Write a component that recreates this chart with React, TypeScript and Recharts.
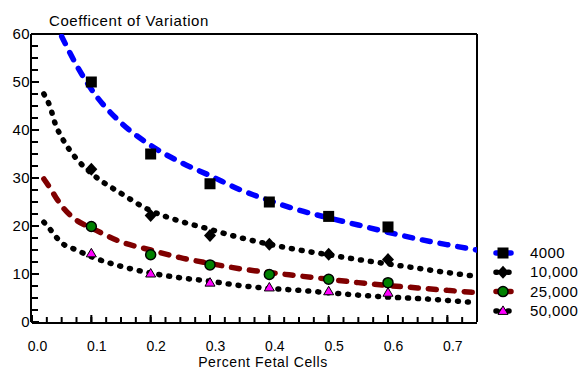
import React from 'react';
import { ComposedChart, Line, Scatter, XAxis, YAxis, ReferenceLine } from 'recharts';

// fitted curves
const curveX = [0.02, 0.03, 0.04, 0.05, 0.075, 0.1, 0.15, 0.2, 0.25, 0.3, 0.35, 0.4, 0.45, 0.5, 0.55, 0.6, 0.65, 0.7, 0.75];
const fit4000 = [null, null, null, 59.5, 53.5, 48.5, 41.5, 36.8, 33.3, 30.5, 27.6, 25.3, 23.3, 21.7, 20.2, 18.7, 17.3, 16.1, 15];
const fit10000 = [47.5, 45, 41, 38.5, 34, 31, 26.8, 23.2, 21, 19.3, 17.6, 16.2, 15, 14, 13, 12.1, 11.2, 10.3, 9.5];
const fit25000 = [29.8, 28, 26, 24.2, 21.2, 19.6, 16.7, 15, 13.4, 12.2, 11.1, 10.3, 9.6, 8.9, 8.2, 7.6, 7.1, 6.6, 6.1];
const fit50000 = [20.8, 19.4, 17.8, 16.5, 15, 13.6, 11.6, 10.2, 9.2, 8.5, 7.6, 7, 6.6, 6.1, 5.6, 5.2, 4.9, 4.5, 4];

// measured points
const markerX = [0.1, 0.2, 0.3, 0.4, 0.5, 0.6];
const pts4000 = [50, 35, 28.8, 25, 22, 19.8];
const pts10000 = [31.8, 22.2, 18, 16.2, 14.1, 13];
const pts25000 = [19.9, 14, 11.9, 9.9, 8.9, 8.2];
const pts50000 = [14.3, 10.1, 8.2, 7.2, 6.4, 6.1];

const seriesNames = ['4000', '10,000', '25,000', '50,000'];
const xMajor = [0, 0.1, 0.2, 0.3, 0.4, 0.5, 0.6, 0.7];
const xTickLabels = ['0.0', '0.1', '0.2', '0.3', '0.4', '0.5', '0.6', '0.7'];
const yMajor = [0, 10, 20, 30, 40, 50, 60];
const yTickLabels = ['0', '10', '20', '30', '40', '50', '60'];

const FONT = '"Liberation Sans", Arial, sans-serif';

const toPts = (xs: number[], ys: (number | null)[]) =>
  xs.map((x, i) => ({ x, y: ys[i] })).filter((d) => d.y !== null);

const Square = ({ cx, cy }: any) => <rect x={cx - 5.5} y={cy - 5.5} width={11} height={11} fill="#000" />;
const Diamond = ({ cx, cy }: any) => (
  <path d={`M${cx},${cy - 6.5}L${cx + 6},${cy}L${cx},${cy + 6.5}L${cx - 6},${cy}Z`} fill="#000" />
);
const Dot = ({ cx, cy }: any) => <circle cx={cx} cy={cy} r={5} fill="#008000" stroke="#000" strokeWidth={1.5} />;
const Tri = ({ cx, cy }: any) => (
  <path d={`M${cx},${cy - 5}L${cx + 5},${cy + 3.5}L${cx - 5},${cy + 3.5}Z`} fill="#ff00ff" stroke="#000" strokeWidth={1} />
);

const styles = [
  { color: '#0000ff', dash: '8 10', Shape: Square },
  { color: '#000000', dash: '1 9', Shape: Diamond },
  { color: '#800000', dash: '8 10', Shape: Dot },
  { color: '#000000', dash: '1 9', Shape: Tri },
];

// minor ticks: every 0.025 on x, every 2.5 on y
const xMinor: number[] = [];
for (let i = 0; i <= 30; i++) xMinor.push(Number((i * 0.025).toFixed(3)));
const yMinor: number[] = [];
for (let i = 0; i <= 24; i++) yMinor.push(i * 2.5);

const XLabel = (props: any) => {
  const { x, y, index } = props;
  return (
    <text x={x + 5.5} y={y + 28} textAnchor="middle" fontSize={14} fill="#000" fontFamily={FONT}>
      {xTickLabels[index]}
    </text>
  );
};

const YLabel = (props: any) => {
  const { x, y, index } = props;
  return (
    <text x={x - 1} y={y + 5} textAnchor="end" fontSize={15} letterSpacing={0.4} fill="#000" fontFamily={FONT}>
      {yTickLabels[index]}
    </text>
  );
};

const NoLabel = () => <g />;

const fits = [fit4000, fit10000, fit25000, fit50000];
const pts = [pts4000, pts10000, pts25000, pts50000];
const tickStroke = { stroke: '#000', strokeWidth: 2 };

export default function App() {
  return (
    <div style={{ position: 'absolute', left: 0, top: 0, width: 580, height: 371, fontFamily: FONT, background: '#fff' }}>
      <ComposedChart width={580} height={371} margin={{ top: 34, right: 103, bottom: 0, left: 0 }}>
        {/* outer axes: axis line, major ticks and labels */}
        <XAxis
          xAxisId="major"
          dataKey="x"
          type="number"
          domain={[0, 0.75]}
          ticks={xMajor}
          interval={0}
          tick={<XLabel />}
          tickLine={tickStroke}
          tickSize={-8}
          tickMargin={8}
          height={48}
          axisLine={{ stroke: '#000', strokeWidth: 2 }}
          allowDataOverflow
        />
        <YAxis
          yAxisId="major"
          dataKey="y"
          type="number"
          domain={[0, 60]}
          ticks={yMajor}
          interval={0}
          tick={<YLabel />}
          tickLine={tickStroke}
          tickSize={-8}
          tickMargin={8}
          width={31}
          axisLine={{ stroke: '#000', strokeWidth: 2 }}
          allowDataOverflow
        />
        {/* inner axes: minor ticks, series bind to these */}
        <XAxis
          dataKey="x"
          type="number"
          domain={[0, 0.75]}
          ticks={xMinor}
          interval={0}
          tick={<NoLabel />}
          tickLine={tickStroke}
          tickSize={-5}
          tickMargin={0}
          height={1}
          axisLine={false}
          allowDataOverflow
        />
        <YAxis
          dataKey="y"
          type="number"
          domain={[0, 60]}
          ticks={yMinor}
          interval={0}
          tick={<NoLabel />}
          tickLine={tickStroke}
          tickSize={-6}
          tickMargin={0}
          width={1}
          axisLine={false}
          allowDataOverflow
        />
        <ReferenceLine y={60} stroke="#000" strokeWidth={2} />
        <ReferenceLine x={0.75} stroke="#000" strokeWidth={2} />
        {fits.map((f, i) => (
          <Line
            key={'fit' + i}
            data={toPts(curveX, f)}
            dataKey="y"
            type="monotone"
            stroke={styles[i].color}
            strokeWidth={5.5}
            strokeDasharray={styles[i].dash}
            strokeLinecap="round"
            dot={false}
            activeDot={false}
            isAnimationActive={false}
          />
        ))}
        {pts.map((p, i) => (
          <Scatter
            key={'pts' + i}
            data={toPts(markerX, p)}
            dataKey="y"
            shape={styles[i].Shape}
            isAnimationActive={false}
          />
        ))}
      </ComposedChart>
      <svg width={580} height={371} style={{ position: 'absolute', left: 0, top: 0, pointerEvents: 'none' }}>
        <text x={49} y={26} fontSize={15} letterSpacing={0.6} fill="#000" fontFamily={FONT}>Coefficent of Variation</text>
        <text x={263} y={367} fontSize={14} letterSpacing={0.6} fill="#000" textAnchor="middle" fontFamily={FONT}>Percent Fetal Cells</text>
        {seriesNames.map((name, i) => {
          const S = styles[i].Shape;
          const cy = 253 + i * 19.3;
          return (
            <g key={name}>
              <line x1={496} x2={511} y1={cy} y2={cy} stroke={styles[i].color} strokeWidth={5.5}
                strokeDasharray={styles[i].dash === '1 9' ? '1 5' : '3 9'} strokeLinecap="round" />
              <S cx={503} cy={cy} />
              <text x={530} y={cy + 5} fontSize={15} letterSpacing={0.4} fill="#000" fontFamily={FONT}>{name}</text>
            </g>
          );
        })}
      </svg>
    </div>
  );
}
